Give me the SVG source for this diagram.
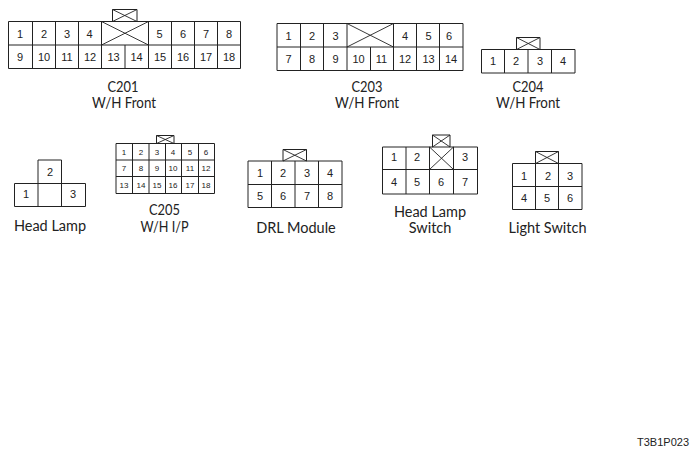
<svg xmlns="http://www.w3.org/2000/svg" width="700" height="456" viewBox="0 0 700 456">
<style>
.l{fill:none;stroke:#222;stroke-width:1}
.x{fill:none;stroke:#222;stroke-width:.9}
.n{font-family:"Liberation Sans",Arial,sans-serif;font-size:11px;fill:#222;text-anchor:middle}
.s{font-family:"Liberation Sans",Arial,sans-serif;font-size:8px;fill:#222;text-anchor:middle}
.c{font-family:Lato,"Open Sans",sans-serif;font-size:14.5px;fill:#222;text-anchor:middle}
.r{font-family:"Liberation Sans",Arial,sans-serif;font-size:11px;fill:#222;text-anchor:end}
</style>
<rect width="700" height="456" fill="#fff"/>
<g id="C201">
<path class="l" d="M8.5 21.5H240.5V68.5H8.5ZM8.5 45H240.5M32.5 21.5V68.5M55.5 21.5V68.5M78.5 21.5V68.5M101.5 21.5V68.5M125 45V68.5M148.5 21.5V68.5M171.5 21.5V68.5M194.5 21.5V68.5M217.5 21.5V68.5M112.5 21.5V9.5H137V21.5"/>
<path class="x" d="M101.5 21.5L148.5 45M148.5 21.5L101.5 45M112.5 9.5L137 21.5M137 9.5L112.5 21.5"/>
<g class="n"><text x="20" y="37.5">1</text><text x="44" y="37.5">2</text><text x="67" y="37.5">3</text><text x="89.5" y="37.5">4</text><text x="159.5" y="37.5">5</text><text x="183" y="37.5">6</text><text x="206" y="37.5">7</text><text x="229" y="37.5">8</text>
<text x="20" y="60.5">9</text><text x="44" y="60.5">10</text><text x="67" y="60.5">11</text><text x="90" y="60.5">12</text><text x="113.5" y="60.5">13</text><text x="136.5" y="60.5">14</text><text x="160" y="60.5">15</text><text x="183" y="60.5">16</text><text x="206" y="60.5">17</text><text x="229" y="60.5">18</text></g>
<text class="c" x="123" y="92" textLength="31" lengthAdjust="spacingAndGlyphs">C201</text><text class="c" x="124" y="108" textLength="64" lengthAdjust="spacingAndGlyphs">W/H Front</text>
</g>
<g id="C203">
<path class="l" d="M277 23.5H463V70.5H277ZM277 47H463M300.5 23.5V70.5M323.5 23.5V70.5M347 23.5V70.5M370.5 47V70.5M393.5 23.5V70.5M416.5 23.5V70.5M439.5 23.5V70.5"/>
<path class="x" d="M347 23.5L393.5 47M393.5 23.5L347 47"/>
<g class="n"><text x="288.5" y="39.5">1</text><text x="312" y="39.5">2</text><text x="335.5" y="39.5">3</text><text x="405" y="39.5">4</text><text x="428.5" y="39.5">5</text><text x="449" y="39.5">6</text>
<text x="288.5" y="62.5">7</text><text x="312" y="62.5">8</text><text x="335.5" y="62.5">9</text><text x="358.5" y="62.5">10</text><text x="381.5" y="62.5">11</text><text x="405" y="62.5">12</text><text x="428.5" y="62.5">13</text><text x="451" y="62.5">14</text></g>
<text class="c" x="367" y="92" textLength="31" lengthAdjust="spacingAndGlyphs">C203</text><text class="c" x="367" y="108" textLength="64" lengthAdjust="spacingAndGlyphs">W/H Front</text>
</g>
<g id="C204">
<path class="l" d="M481.5 49.5H575V73H481.5ZM504.5 49.5V73M528 49.5V73M551.5 49.5V73M516.5 49.5V37.5H540V49.5"/>
<path class="x" d="M516.5 37.5L540 49.5M540 37.5L516.5 49.5"/>
<g class="n"><text x="493" y="65">1</text><text x="516" y="65">2</text><text x="540" y="65">3</text><text x="563" y="65">4</text></g>
<text class="c" x="528" y="92" textLength="31" lengthAdjust="spacingAndGlyphs">C204</text><text class="c" x="528" y="108" textLength="64" lengthAdjust="spacingAndGlyphs">W/H Front</text>
</g>
<g id="HeadLamp">
<path class="l" d="M14.5 183.5H85.5V206.5H14.5ZM38 160H61.5V206.5H38Z"/>
<g class="n"><text x="26" y="198">1</text><text x="50" y="176">2</text><text x="73" y="198">3</text></g>
<text class="c" x="50" y="231">Head Lamp</text>
</g>
<g id="C205">
<path class="l" d="M116 143.5H214.5V193.5H116ZM116 160H214.5M116 176.5H214.5M132.5 143.5V193.5M149 143.5V193.5M165.5 143.5V193.5M181.5 143.5V193.5M198.5 143.5V193.5M156.5 143.5V135.5H174V143.5"/>
<path class="x" d="M156.5 135.5L174 143.5M174 135.5L156.5 143.5"/>
<g class="s"><text x="124" y="155">1</text><text x="141" y="155">2</text><text x="157" y="155">3</text><text x="173" y="155">4</text><text x="190" y="155">5</text><text x="206" y="155">6</text>
<text x="124" y="171">7</text><text x="141" y="171">8</text><text x="157" y="171">9</text><text x="173" y="171">10</text><text x="190" y="171">11</text><text x="206" y="171">12</text>
<text x="124" y="188">13</text><text x="141" y="188">14</text><text x="157" y="188">15</text><text x="173" y="188">16</text><text x="190" y="188">17</text><text x="206" y="188">18</text></g>
<text class="c" x="164.5" y="215" textLength="31" lengthAdjust="spacingAndGlyphs">C205</text><text class="c" x="164.5" y="231.5" textLength="48" lengthAdjust="spacingAndGlyphs">W/H I/P</text>
</g>
<g id="DRLModule">
<path class="l" d="M248 161H342V207.5H248ZM248 184.5H342M271.5 161V207.5M295 161V207.5M318.5 161V207.5M283 161V149.5H306.5V161"/>
<path class="x" d="M283 149.5L306.5 161M306.5 149.5L283 161"/>
<g class="n"><text x="260" y="177">1</text><text x="283" y="177">2</text><text x="307" y="177">3</text><text x="330" y="177">4</text><text x="260" y="200">5</text><text x="283" y="200">6</text><text x="307" y="200">7</text><text x="330" y="200">8</text></g>
<text class="c" x="296" y="232.5">DRL Module</text>
</g>
<g id="HeadLampSwitch">
<path class="l" d="M382.5 147H477.5V194H382.5ZM382.5 169.5H477.5M406 147V194M429.5 147V194M453.5 147V194M432.5 147V135H450V147"/>
<path class="x" d="M429.5 147L453.5 169.5M453.5 147L429.5 169.5M432.5 135L450 147M450 135L432.5 147"/>
<g class="n"><text x="394" y="161">1</text><text x="417" y="161">2</text><text x="465" y="161">3</text><text x="394" y="186">4</text><text x="417" y="186">5</text><text x="441" y="186">6</text><text x="465" y="186">7</text></g>
<text class="c" x="430" y="217">Head Lamp</text><text class="c" x="430" y="233">Switch</text>
</g>
<g id="LightSwitch">
<path class="l" d="M512.5 163.5H582V209.5H512.5ZM512.5 186.5H582M535.5 163.5V209.5M558.5 163.5V209.5M535.5 163.5V151.5H558.5V163.5"/>
<path class="x" d="M535.5 151.5L558.5 163.5M558.5 151.5L535.5 163.5"/>
<g class="n"><text x="524" y="180">1</text><text x="548" y="180">2</text><text x="570" y="180">3</text><text x="524" y="202">4</text><text x="547" y="202">5</text><text x="570" y="202">6</text></g>
<text class="c" x="547.5" y="233">Light Switch</text>
</g>
<text class="r" x="689" y="446">T3B1P023</text>
<g id="connectors"></g>
</svg>
